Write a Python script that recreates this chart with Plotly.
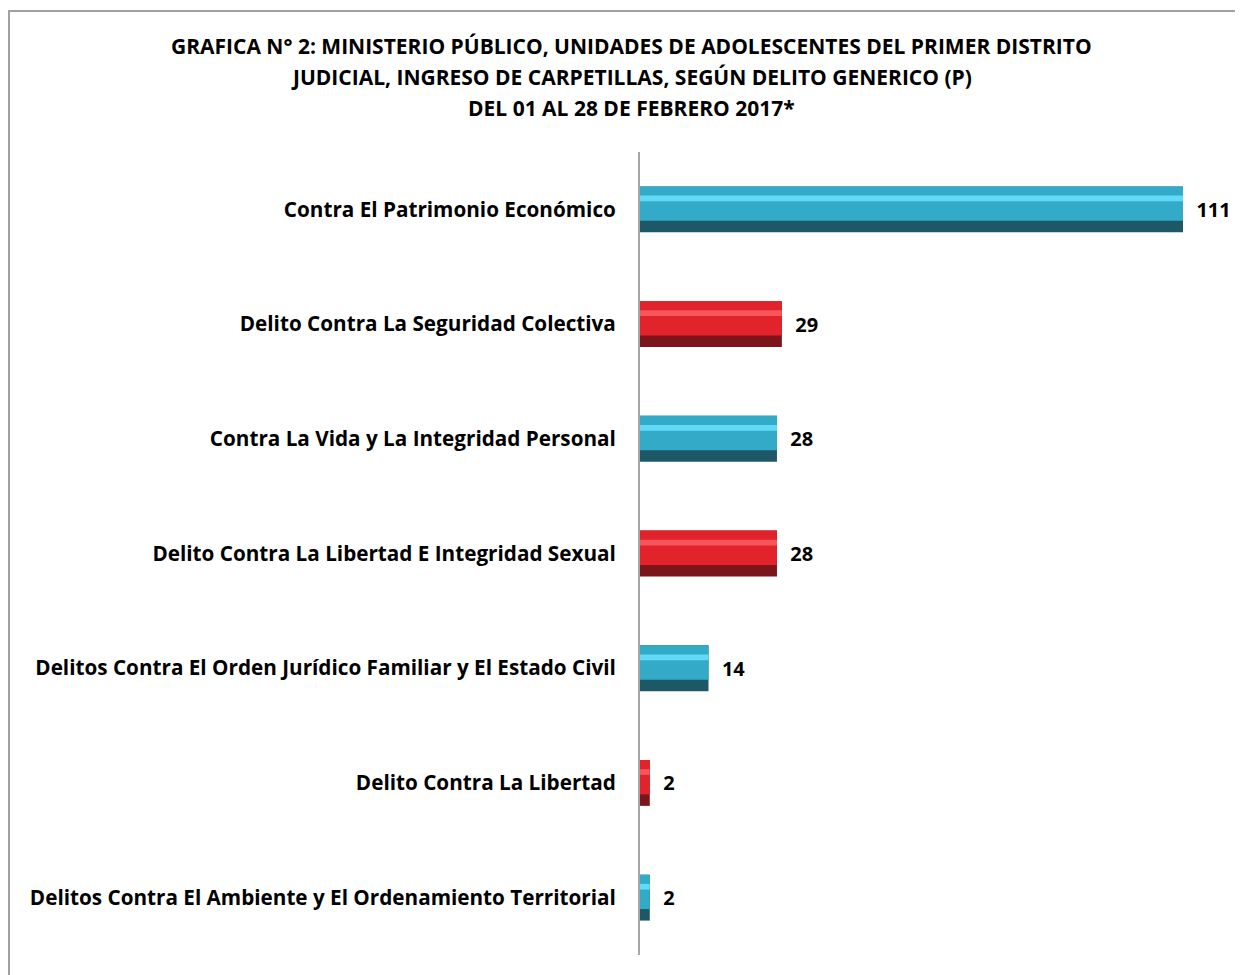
import plotly.graph_objects as go

# DATA ------------------------------------------------------------------------
categorias = [
    "Contra El Patrimonio Económico",
    "Delito Contra La Seguridad Colectiva",
    "Contra La Vida y La Integridad Personal",
    "Delito Contra La Libertad E Integridad Sexual",
    "Delitos Contra El Orden Jurídico Familiar y El Estado Civil",
    "Delito Contra La Libertad",
    "Delitos Contra El Ambiente y El Ordenamiento Territorial",
]
carpetillas = [111, 29, 28, 28, 14, 2, 2]

titulo = [
    "GRAFICA N° 2: MINISTERIO PÚBLICO, UNIDADES DE ADOLESCENTES DEL PRIMER DISTRITO",
    "JUDICIAL, INGRESO DE CARPETILLAS, SEGÚN DELITO GENERICO (P)",
    "DEL 01 AL 28 DE FEBRERO 2017*",
]

# STYLE -----------------------------------------------------------------------
FONT = "'Open Sans', 'Noto Sans', sans-serif"
teal = dict(dark="#1E5766", main="#33ABC8", light="#62D9F5")
red = dict(dark="#7B151B", main="#E3232C", light="#F5555B")
paleta = [teal if i % 2 == 0 else red for i in range(len(categorias))]

fig = go.Figure()

# dark base (bevel shadow) + value labels
fig.add_trace(go.Bar(
    y=categorias, x=carpetillas, orientation="h",
    width=0.40, offset=-0.20,
    marker=dict(color=[p["dark"] for p in paleta], line=dict(width=0)),
    text=["\u00a0\u00a0<b>%d</b>" % v for v in carpetillas],
    textposition="outside",
    textfont=dict(family=FONT, size=20, color="black"),
    cliponaxis=False, showlegend=False, hoverinfo="skip",
))
# main face
fig.add_trace(go.Bar(
    y=categorias, x=carpetillas, orientation="h",
    width=0.30, offset=-0.20,
    marker=dict(color=[p["main"] for p in paleta], line=dict(width=0)),
    showlegend=False, hoverinfo="skip",
))
# highlight stripe
fig.add_trace(go.Bar(
    y=categorias, x=carpetillas, orientation="h",
    width=0.05, offset=-0.12,
    marker=dict(color=[p["light"] for p in paleta], line=dict(width=0)),
    showlegend=False, hoverinfo="skip",
))

ys = [1.132, 1.0934, 1.0548]
for linea, yy in zip(titulo, ys):
    fig.add_annotation(
        text="<b>%s</b>" % linea, xref="paper", yref="paper",
        x=-0.0147, y=yy, showarrow=False,
        xanchor="center", yanchor="middle",
        font=dict(family=FONT, size=21, color="black"),
    )

# outer frame of the chart area
fig.add_shape(
    type="rect", xref="paper", yref="paper",
    x0=-1.0327, x1=1.05, y0=-0.1, y1=1.1756,
    line=dict(color="#A0A0A0", width=2), layer="below",
)

fig.update_layout(
    width=1243, height=975,
    margin=dict(l=632, r=0, t=144, b=28),
    barmode="overlay",
    plot_bgcolor="white", paper_bgcolor="white",
    font=dict(family=FONT, size=21, color="black"),
    xaxis=dict(range=[0, 124.9], visible=False),
    yaxis=dict(
        range=[6.5, -0.5], showline=True, linecolor="#A6A6A6", linewidth=2,
        showgrid=False, ticks="", ticklabelstandoff=18,
        tickfont=dict(family=FONT, size=20.7, color="black", weight="bold"),
    ),
)

fig.write_html("out.html")
